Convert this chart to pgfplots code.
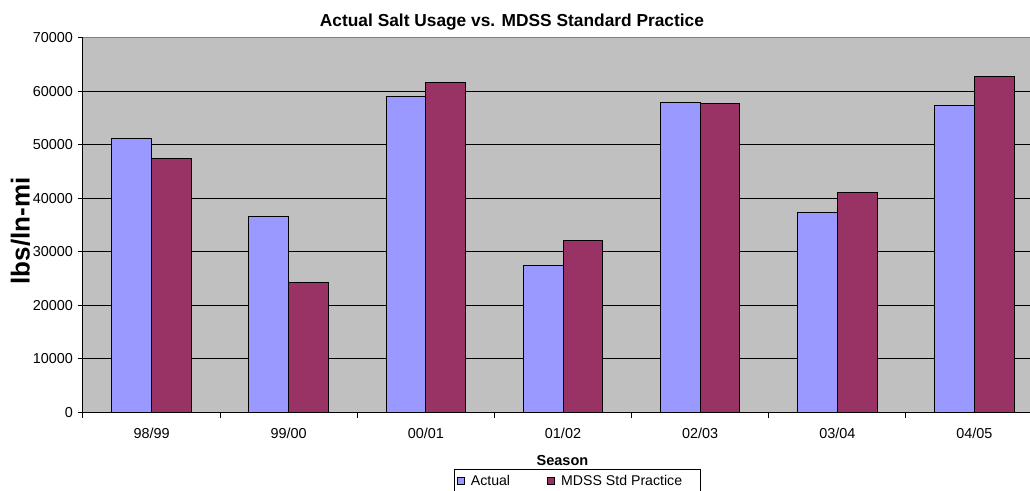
\documentclass[border=0pt]{standalone}
\usepackage{pgfplots}
\pgfplotsset{compat=1.18}
\usepackage{fontspec}
\setmainfont{Liberation Sans}

\definecolor{actual}{HTML}{9999FF}
\definecolor{mdss}{HTML}{993366}
\definecolor{plotbg}{HTML}{C0C0C0}

\begin{document}
\begin{tikzpicture}
\begin{axis}[
    at={(0pt,0pt)}, anchor=south west,
    scale only axis,
    width=720pt, height=281pt,
    ybar=0pt, bar width=0.29,
    xmin=-0.5, xmax=6.5,
    ymin=0, ymax=70000,
    enlargelimits=false,
    axis background/.style={fill=plotbg},
    axis x line*=bottom, axis y line*=left,
    axis line style={black, line width=0.75pt, -},
    xtick={0,1,2,3,4,5,6},
    xticklabels={98/99,99/00,00/01,01/02,02/03,03/04,04/05},
    major x tick style={draw=none},
    minor xtick={-0.5,0.5,1.5,2.5,3.5,4.5,5.5,6.5},
    minor x tick style={black, line width=0.75pt},
    minor tick length=4pt,
    ytick={0,10000,...,60000},
    extra y ticks={70000},
    extra y tick style={grid=none},
    ytick style={black, line width=0.75pt},
    major tick length=4pt,
    tick align=outside,
    ymajorgrids,
    major grid style={black, line width=0.75pt},
    scaled y ticks=false,
    /pgf/number format/1000 sep={},
    /pgf/number format/assume math mode=true,
    tick label style={font=\fontsize{10.8pt}{12pt}\selectfont},
    xticklabel style={yshift=-4pt},
    legend columns=2,
    legend style={
      at={(0.3865,-0.1525)}, anchor=north west,
      draw=black, fill=white, line width=0.6pt,
      font=\fontsize{10.6pt}{12pt}\selectfont,
      inner xsep=2pt, inner ysep=2pt,
      /tikz/every even column/.append style={column sep=26pt},
    },
    legend cell align=left,
]
\addplot[fill=actual, draw=black, line width=0.75pt,
  legend image code/.code={\draw[fill=actual,draw=black,line width=0.6pt] (0pt,-2.6pt) rectangle (5.2pt,2.6pt); \path[draw=none,fill=none] (0pt,0pt) rectangle (8pt,0pt);}]
  coordinates {
(0, 51100) (1, 36500) (2, 59000) (3, 27400) (4, 57900) (5, 37400) (6, 57300)
};
\addplot[fill=mdss, draw=black, line width=0.75pt,
  legend image code/.code={\draw[fill=mdss,draw=black,line width=0.6pt] (0pt,-2.6pt) rectangle (5.2pt,2.6pt); \path[draw=none,fill=none] (0pt,0pt) rectangle (8pt,0pt);}]
  coordinates {
(0, 47400) (1, 24200) (2, 61600) (3, 32100) (4, 57700) (5, 41000) (6, 62800)
};
\legend{Actual, MDSS Std Practice\rule{10pt}{0pt}}
\draw[gray, line width=0.75pt] (rel axis cs:0,1) -- (rel axis cs:1,1);
\end{axis}
\node[font=\bfseries\fontsize{13pt}{15pt}\selectfont] at (321.75pt,293pt) {Actual Salt Usage vs. MDSS Standard Practice};
\node[font=\bfseries\fontsize{19.5pt}{22pt}\selectfont, rotate=90] at (-46.9pt,136pt) {lbs/ln-mi};
\node[font=\bfseries\fontsize{10.9pt}{12pt}\selectfont] at (359.6pt,-36.3pt) {Season};
\pgfresetboundingbox
\path[use as bounding box] (-62.25pt,-59pt) rectangle (710.25pt,309.2pt);
\end{tikzpicture}
\end{document}
